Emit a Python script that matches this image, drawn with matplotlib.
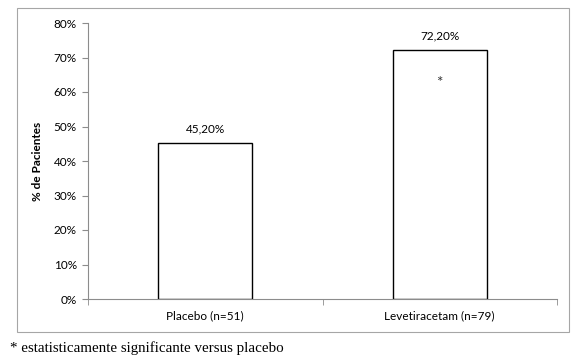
import numpy as np
import matplotlib
matplotlib.use("Agg")
import matplotlib.pyplot as plt
from matplotlib.patches import Rectangle

categories = ["Placebo (n=51)", "Levetiracetam (n=79)"]
values = [45.2, 72.2]
value_labels = ["45,20%", "72,20%"]
star_value = 62.5
yticks = [0, 10, 20, 30, 40, 50, 60, 70, 80]

plt.rcParams['font.family'] = ['Lato', 'DejaVu Sans']

fig = plt.figure(figsize=(5.88, 3.64), dpi=100)
ax = fig.add_axes([88 / 588, 65 / 364, 469 / 588, 276 / 364])

# outer chart frame
fig.patches.append(Rectangle((17 / 588, 32 / 364), 552 / 588, 324 / 364,
                             transform=fig.transFigure, fill=False,
                             edgecolor="#a6a6a6", linewidth=0.8))

x = np.arange(len(categories))
ax.bar(x, values, width=0.4, color="white", edgecolor="black", linewidth=1.0)

for i, v in enumerate(values):
    ax.text(x[i], v + 2.5, value_labels[i], ha="center", va="bottom", fontsize=8.5)
ax.text(x[1], star_value, "*", ha="center", va="center", fontsize=11, color="#333333")

ax.set_xlim(-0.5, 1.5)
ax.set_ylim(0, 80)
ax.set_yticks(yticks)
ax.set_yticklabels([f"{t}%" for t in yticks], fontsize=8.5)
ax.set_xticks(x)
ax.set_xticklabels(categories, fontsize=8.5)
ax.tick_params(axis="x", length=0, pad=8)
ax.set_xticks([-0.5, 0.5, 1.5], minor=True)
ax.tick_params(axis="x", which="minor", length=4, color="#8c8c8c", direction="out")
ax.tick_params(axis="y", length=4, color="#8c8c8c", pad=4)
ax.set_ylabel("% de Pacientes", fontsize=8.5, fontweight="bold", labelpad=8)

for s in ["top", "right"]:
    ax.spines[s].set_visible(False)
for s in ["left", "bottom"]:
    ax.spines[s].set_color("#8c8c8c")
    ax.spines[s].set_linewidth(0.8)

fig.text(10 / 588, 1 - 348 / 364, "* estatisticamente significante versus placebo",
         family="Liberation Serif", fontsize=10.8, va="center", ha="left")

fig.savefig("out.png", dpi=100)
